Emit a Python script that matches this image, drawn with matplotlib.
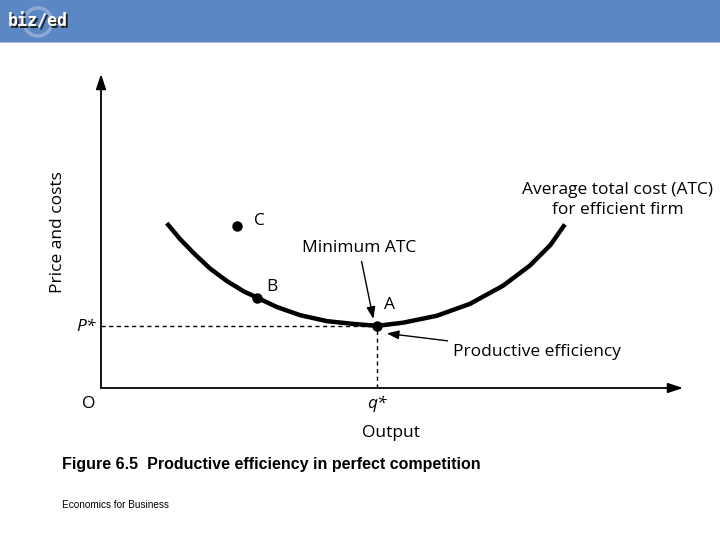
import matplotlib
matplotlib.use("Agg")
import matplotlib.pyplot as plt
import matplotlib.patches as patches

# ATC curve (output, cost)
atc_x = [1.13, 1.36, 1.59, 1.87, 2.16, 2.45, 2.68, 3.02, 3.42, 3.88, 4.34, 4.75,
         5.19, 5.77, 6.34, 6.91, 7.37, 7.72, 7.97]
atc_y = [5.25, 4.74, 4.30, 3.81, 3.41, 3.08, 2.88, 2.58, 2.32, 2.13, 2.04, 1.98,
         2.08, 2.30, 2.68, 3.26, 3.90, 4.55, 5.21]

point_names = ["A", "B", "C"]
point_x = [4.75, 2.68, 2.33]
point_y = [1.98, 2.88, 5.16]

q_star = 4.75
p_star = 1.98

W, H = 720, 540
font = "Open Sans"


def fx(px):
  return px / W


def fy(py):
  return 1 - py / H


fig = plt.figure(figsize=(7.2, 5.4), dpi=100)
fig.patch.set_facecolor("white")

# header band with the biz/ed logo
fig.patches.append(patches.Rectangle((0, fy(42)), 1, 42 / H, transform=fig.transFigure,
                                     facecolor="#5b87c4", edgecolor="none", zorder=0))
fig.patches.append(patches.Rectangle((0, fy(43)), 1, 1.5 / H, transform=fig.transFigure,
                                     facecolor="#a9b7c9", edgecolor="none", zorder=0))
fig.patches.append(patches.Ellipse((fx(38), fy(22)), 28 / W, 28 / H, transform=fig.transFigure,
                                   fill=False, edgecolor="#8eaad4", lw=2.5, zorder=1))
fig.text(fx(9.5), fy(23.5), "biz/ed", fontsize=12, color="#222222", ha="left", va="center",
         family="DejaVu Sans Mono", weight="bold", zorder=2)
fig.text(fx(8), fy(22), "biz/ed", fontsize=12, color="white", ha="left", va="center",
         family="DejaVu Sans Mono", weight="bold", zorder=3)

# chart axes: origin at (101,388) px, arrows to x=683 and y=74
ax = fig.add_axes([fx(101), fy(388), 582 / W, 314 / H])
ax.set_xlim(0, 10)
ax.set_ylim(0, 10)
ax.axis("off")

arrow = dict(arrowstyle="-|>,head_length=0.75,head_width=0.25", lw=1.3, color="black",
             shrinkA=0, shrinkB=0, mutation_scale=12)
ax.annotate("", xy=(0, 1), xytext=(0, 0), xycoords="axes fraction", arrowprops=arrow)
ax.annotate("", xy=(1, 0), xytext=(0, 0), xycoords="axes fraction", arrowprops=arrow)

# dashed guides
ax.plot([0, q_star], [p_star, p_star], ls=(0, (3, 2.5)), color="black", lw=1)
ax.plot([q_star, q_star], [0, p_star], ls=(0, (3, 2.5)), color="black", lw=1)

# ATC curve and points
ax.plot(atc_x, atc_y, color="black", lw=3.2, solid_capstyle="butt", solid_joinstyle="round")
ax.plot(point_x, point_y, "o", color="black", ms=6.5, clip_on=False)

# labels
txt = dict(family=font, fontsize=12.5, color="black")
fig.text(fx(58), fy(232), "Price and costs", rotation=90, ha="center", va="center", **txt)
fig.text(fx(96), fy(327), "P*", ha="right", va="center", style="italic", **txt)
fig.text(fx(89), fy(404), "O", ha="center", va="center", **txt)
fig.text(fx(377), fy(404), "q*", ha="center", va="center", style="italic", **txt)
fig.text(fx(391), fy(433), "Output", ha="center", va="center", **txt)
fig.text(fx(254), fy(221), "C", ha="left", va="center", **txt)
fig.text(fx(266), fy(287), "B", ha="left", va="center", **txt)
fig.text(fx(384), fy(305), "A", ha="left", va="center", **txt)
fig.text(fx(618), fy(200), "Average total cost (ATC)\nfor efficient firm", ha="center",
         va="center", linespacing=1.3, **txt)

thin = dict(arrowstyle="-|>,head_length=0.6,head_width=0.22", lw=1.0, color="black",
            shrinkA=2, shrinkB=0, mutation_scale=12)
ax.annotate("Minimum ATC", xy=(4.68, 2.2), xytext=(4.43, 4.46), ha="center", va="center",
            arrowprops=thin, **txt)
ax.annotate("Productive efficiency", xy=(4.91, 1.74), xytext=(6.05, 1.15), ha="left",
            va="center", arrowprops=thin, **txt)

fig.text(fx(62), fy(464), "Figure 6.5  Productive efficiency in perfect competition",
         family="Liberation Sans", weight="bold", fontsize=11.5, ha="left", va="center")
fig.text(fx(62), fy(505), "Economics for Business", family="Liberation Sans",
         fontsize=7.2, ha="left", va="center")

fig.savefig("out.png", dpi=100)
